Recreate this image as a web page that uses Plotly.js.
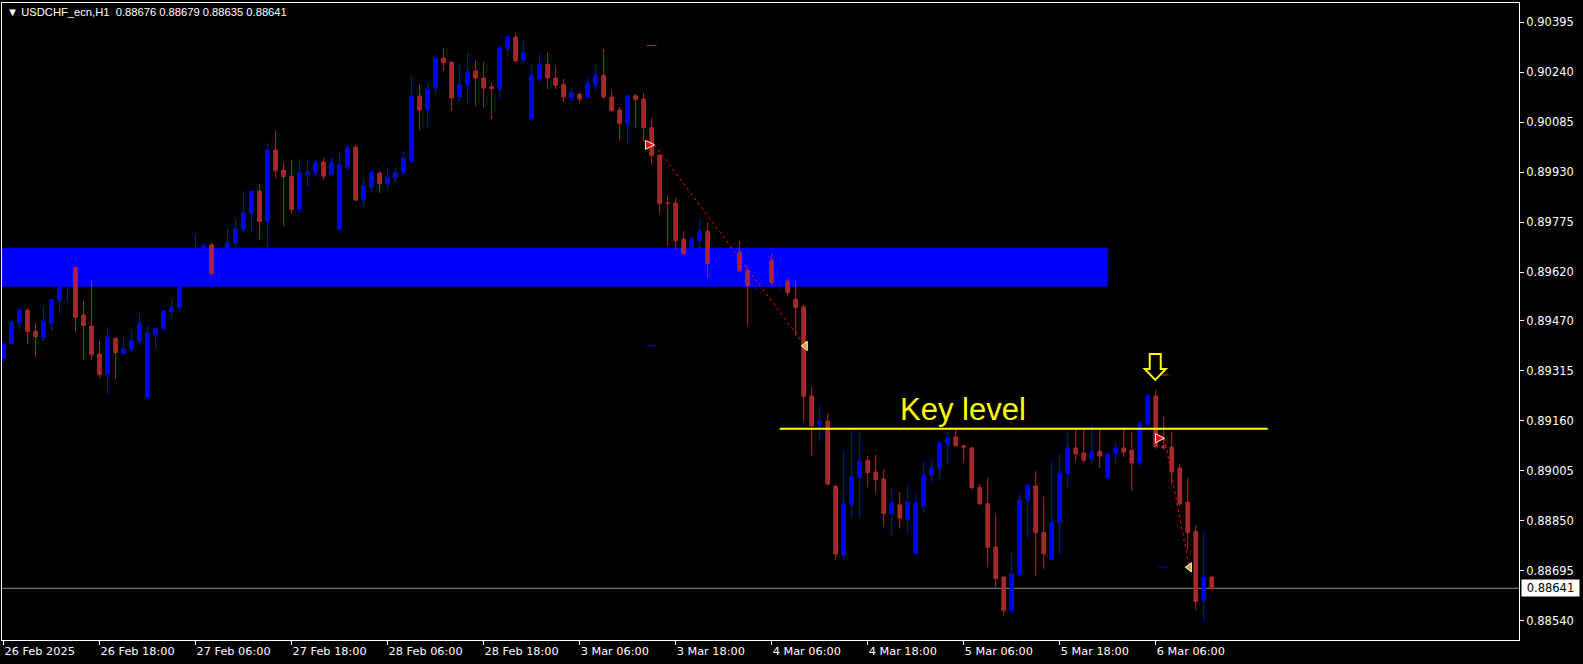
<!DOCTYPE html>
<html>
<head>
<meta charset="utf-8">
<script src="https://cdn.plot.ly/plotly-3.0.1.min.js"></script>
<style>html,body{margin:0;padding:0;background:#000;}#chart{width:1583px;height:664px;}</style>
</head>
<body>
<div id="chart"></div>
<script>
// ---- data (USDCHF_ecn, H1) ----
const opens = [0.89352,0.89399,0.89463,0.89503,0.89438,0.89417,0.89463,0.89531,0.89590,0.89634,
0.89488,0.89454,0.89367,0.89303,0.89416,0.89368,0.89380,0.89405,0.89232,0.89426,
0.89445,0.89498,0.89510,0.89590,0.89640,0.89680,0.89705,0.89620,0.89660,0.89711,
0.89752,0.89802,0.89872,0.89777,0.89999,0.89937,0.89918,0.89814,0.89922,0.89928,
0.89962,0.89922,0.89754,0.89946,0.90008,0.89844,0.89884,0.89928,0.89894,0.89913,
0.89928,0.89965,0.90166,0.90123,0.90191,0.90284,0.90272,0.90163,0.90200,0.90244,
0.90222,0.90195,0.90188,0.90312,0.90349,0.90278,0.90095,0.90219,0.90265,0.90222,
0.90203,0.90160,0.90172,0.90163,0.90200,0.90231,0.90163,0.90123,0.90078,0.90167,
0.90157,0.90068,0.89983,0.89835,0.89835,0.89723,0.89690,0.89717,0.89748,0.89650,
0.89665,0.89670,0.89683,0.89627,0.89580,0.89600,0.89658,0.89582,0.89593,0.89537,
0.89513,0.89237,0.89147,0.89159,0.88958,0.88741,0.88900,0.88984,0.89038,0.89001,
0.88980,0.88872,0.88900,0.88854,0.88750,0.88894,0.88990,0.89012,0.89086,0.89110,
0.89083,0.89076,0.88954,0.88903,0.88769,0.88676,0.88572,0.88683,0.88912,0.88958,
0.88815,0.88730,0.88844,0.88996,0.89076,0.89060,0.89042,0.89066,0.88984,0.89057,
0.89076,0.89069,0.89029,0.89151,0.89237,0.89082,0.89079,0.89014,0.88908,0.88818,
0.88603,0.88676];
const highs = [0.89405,0.89470,0.89509,0.89509,0.89463,0.89516,0.89537,0.89600,0.89660,0.89639,
0.89531,0.89596,0.89407,0.89450,0.89417,0.89419,0.89441,0.89492,0.89454,0.89448,
0.89503,0.89535,0.89590,0.89660,0.89739,0.89710,0.89712,0.89670,0.89758,0.89785,
0.89872,0.89872,0.89894,0.90021,0.90058,0.89962,0.89968,0.89971,0.89968,0.89968,
0.89974,0.89977,0.89993,0.90015,0.90015,0.89909,0.89934,0.89934,0.89943,0.89943,
0.89996,0.90228,0.90204,0.90204,0.90284,0.90315,0.90272,0.90262,0.90303,0.90278,
0.90272,0.90207,0.90324,0.90355,0.90362,0.90337,0.90262,0.90300,0.90303,0.90259,
0.90219,0.90194,0.90176,0.90225,0.90262,0.90312,0.90185,0.90133,0.90167,0.90172,
0.90176,0.90099,0.89985,0.89859,0.89850,0.89748,0.89734,0.89783,0.89776,0.89685,
0.89690,0.89702,0.89717,0.89640,0.89610,0.89640,0.89678,0.89605,0.89600,0.89596,
0.89520,0.89265,0.89209,0.89184,0.88960,0.89066,0.89128,0.89122,0.89051,0.89054,
0.89011,0.88950,0.88940,0.88962,0.88937,0.89032,0.89038,0.89097,0.89125,0.89131,
0.89085,0.89078,0.88965,0.88984,0.88871,0.88677,0.88751,0.88936,0.88961,0.89004,
0.88924,0.89035,0.89057,0.89122,0.89131,0.89131,0.89144,0.89131,0.89060,0.89094,
0.89141,0.89125,0.89159,0.89243,0.89255,0.89172,0.89125,0.89026,0.88983,0.88837,
0.88815,0.88679];
const lows = [0.89340,0.89396,0.89450,0.89401,0.89359,0.89408,0.89438,0.89492,0.89529,0.89436,
0.89351,0.89349,0.89293,0.89244,0.89290,0.89362,0.89374,0.89396,0.89230,0.89383,
0.89444,0.89479,0.89501,0.89580,0.89630,0.89660,0.89610,0.89600,0.89640,0.89690,
0.89746,0.89746,0.89721,0.89696,0.89913,0.89764,0.89802,0.89805,0.89884,0.89916,
0.89906,0.89920,0.89752,0.89934,0.89841,0.89822,0.89866,0.89866,0.89878,0.89897,
0.89922,0.89960,0.90060,0.90070,0.90176,0.90244,0.90120,0.90148,0.90142,0.90135,
0.90129,0.90095,0.90157,0.90287,0.90272,0.90269,0.90093,0.90207,0.90188,0.90188,
0.90148,0.90151,0.90145,0.90160,0.90182,0.90157,0.90117,0.90028,0.90016,0.90068,
0.90025,0.89953,0.89802,0.89703,0.89690,0.89672,0.89680,0.89690,0.89600,0.89640,
0.89655,0.89660,0.89619,0.89455,0.89565,0.89590,0.89578,0.89567,0.89545,0.89424,
0.89157,0.89051,0.89097,0.88958,0.88729,0.88729,0.88863,0.88863,0.88956,0.88934,
0.88832,0.88807,0.88826,0.88813,0.88742,0.88875,0.88968,0.88981,0.89027,0.89080,
0.89030,0.88947,0.88898,0.88708,0.88643,0.88556,0.88565,0.88677,0.88798,0.88680,
0.88702,0.88728,0.88748,0.88950,0.89032,0.89029,0.89029,0.89014,0.88982,0.89029,
0.89048,0.88942,0.89021,0.89144,0.89073,0.89070,0.88961,0.88900,0.88760,0.88575,
0.88540,0.88635];
const closes = [0.89398,0.89466,0.89503,0.89436,0.89420,0.89469,0.89535,0.89585,0.89640,0.89481,
0.89455,0.89365,0.89303,0.89419,0.89371,0.89382,0.89410,0.89463,0.89432,0.89447,
0.89500,0.89512,0.89580,0.89640,0.89680,0.89702,0.89616,0.89660,0.89714,0.89754,
0.89804,0.89872,0.89777,0.89999,0.89935,0.89916,0.89814,0.89928,0.89931,0.89962,
0.89918,0.89962,0.89953,0.90008,0.89844,0.89888,0.89931,0.89894,0.89915,0.89928,
0.89974,0.90166,0.90123,0.90188,0.90284,0.90269,0.90160,0.90203,0.90241,0.90222,
0.90191,0.90189,0.90315,0.90349,0.90275,0.90300,0.90231,0.90265,0.90222,0.90200,
0.90163,0.90176,0.90157,0.90207,0.90231,0.90163,0.90121,0.90081,0.90167,0.90155,
0.90068,0.89981,0.89833,0.89833,0.89718,0.89678,0.89723,0.89748,0.89647,0.89670,
0.89680,0.89690,0.89625,0.89579,0.89600,0.89625,0.89588,0.89595,0.89557,0.89511,
0.89235,0.89144,0.89159,0.88964,0.88747,0.88903,0.88987,0.89035,0.88999,0.88978,
0.88872,0.88906,0.88857,0.88909,0.88906,0.88992,0.89015,0.89091,0.89107,0.89083,
0.89077,0.88953,0.88903,0.88768,0.88671,0.88572,0.88686,0.88915,0.88961,0.88813,
0.88748,0.88846,0.88998,0.89076,0.89057,0.89038,0.89066,0.89051,0.89057,0.89076,
0.89063,0.89029,0.89153,0.89237,0.89079,0.89076,0.89001,0.88902,0.88813,0.88600,
0.88676,0.88641];

const xTickIdx = [0,12,24,36,48,60,72,84,96,108,120,132,144];
const xTickLabels = ["26 Feb 2025","26 Feb 18:00","27 Feb 06:00","27 Feb 18:00","28 Feb 06:00",
  "28 Feb 18:00","3 Mar 06:00","3 Mar 18:00","4 Mar 06:00","4 Mar 18:00","5 Mar 06:00",
  "5 Mar 18:00","6 Mar 06:00"];
const yTickVals = [0.90395,0.90240,0.90085,0.89930,0.89775,0.89620,0.89470,0.89315,0.89160,
  0.89005,0.88850,0.88695,0.88540];
const yTickLabels = ["0.90395","0.90240","0.90085","0.89930","0.89775","0.89620","0.89470",
  "0.89315","0.89160","0.89005","0.88850","0.88695","0.88540"];

const symbolName = "USDCHF_ecn,H1";
const zoneTop = 0.89696, zoneBottom = 0.89575, zoneEndBar = 138;
const keyLevel = 0.89135, keyStartBar = 97, keyEndBar = 158;
const keyLabel = "Key level", keyLabelBar = 119.9, keyLabelPrice = 0.89196;
const signalBar = 143.94, signalPrice = 0.89327;
const lastPrice = 0.88641;

// trades (sell): open arrow -> close triangle
const tradeOpenBar = [81.35, 145.1], tradeOpenPrice = [0.90015, 0.89106];
const tradeCloseBar = [100.2, 148.2], tradeClosePrice = [0.89392, 0.88706];
const tpBar = [81, 145], tpPrice = [0.89392, 0.88707];
const slBar = [81, 145], slPrice = [0.90323, 0.89302];

const idx = opens.map((_, i) => i);
const BULL = "#0000FF", BEAR = "#A52A2A";
const FONT = "DejaVu Sans";

const traces = [];
traces.push({
  type: "candlestick", x: idx, open: opens, high: highs, low: lows, close: closes,
  increasing: {line: {color: BULL, width: 1}, fillcolor: BULL},
  decreasing: {line: {color: BEAR, width: 1}, fillcolor: BEAR},
  whiskerwidth: 0, hoverinfo: "none", showlegend: false
});
for (let k = 0; k < tradeOpenBar.length; k++) {
  traces.push({type: "scatter", mode: "lines", x: [tradeOpenBar[k], tradeCloseBar[k]],
    y: [tradeOpenPrice[k], tradeClosePrice[k]], line: {color: "#FF0000", width: 1, dash: "dot"},
    hoverinfo: "none", showlegend: false});
}
traces.push({type: "scatter", mode: "markers", x: tpBar, y: tpPrice,
  marker: {symbol: "line-ew", size: 7, line: {color: "#0000FF", width: 1}}, hoverinfo: "none", showlegend: false});
traces.push({type: "scatter", mode: "markers", x: slBar, y: slPrice,
  marker: {symbol: "line-ew", size: 7, line: {color: "#FF0000", width: 1}}, hoverinfo: "none", showlegend: false});
traces.push({type: "scatter", mode: "markers", x: tradeOpenBar, y: tradeOpenPrice,
  marker: {symbol: "arrow-right", size: 9, color: "#FF0000", line: {color: "#FFFFFF", width: 1}}, hoverinfo: "none", showlegend: false});
traces.push({type: "scatter", mode: "markers", x: tradeCloseBar, y: tradeClosePrice,
  marker: {symbol: "triangle-left", size: 8, color: "#DAA520", line: {color: "#FFFFFF", width: 1}}, hoverinfo: "none", showlegend: false});

// outlined down-arrow (pixel-sized, anchored at the signal bar/price)
const arrowPath = "M -5.5 13 L 5.5 13 L 5.5 -2 L 10.5 -2 L 0 -13 L -10.5 -2 L -5.5 -2 Z";

const layout = {
  width: 1583, height: 664,
  margin: {l: 2, r: 64, t: 3, b: 24},
  paper_bgcolor: "#000000", plot_bgcolor: "#000000",
  showlegend: false, boxgap: 0.35,
  font: {family: FONT, color: "#FFFFFF", size: 11.5},
  xaxis: {
    range: [-0.19, 189.4], rangeslider: {visible: false},
    tickmode: "array", tickvals: xTickIdx, ticktext: xTickLabels,
    ticks: "outside", ticklen: 4, tickcolor: "#FFFFFF", ticklabelposition: "outside right",
    showgrid: false, zeroline: false, showline: true, linecolor: "#FFFFFF", linewidth: 1, mirror: true,
    tickfont: {family: FONT, size: 11.3, color: "#FFFFFF"}
  },
  yaxis: {
    side: "right", range: [0.884808, 0.904545],
    tickmode: "array", tickvals: yTickVals, ticktext: yTickLabels,
    ticks: "outside", ticklen: 4, tickcolor: "#FFFFFF",
    showgrid: false, zeroline: false, showline: true, linecolor: "#FFFFFF", linewidth: 1, mirror: true,
    tickfont: {family: FONT, size: 11.5, color: "#FFFFFF"}
  },
  shapes: [
    {type: "rect", xref: "x", yref: "y", x0: -1, x1: zoneEndBar, y0: zoneBottom, y1: zoneTop,
     fillcolor: "#0000FF", line: {width: 0}, layer: "below"},
    {type: "line", xref: "paper", yref: "y", x0: 0, x1: 1, y0: lastPrice, y1: lastPrice,
     line: {color: "#8A949E", width: 1}, layer: "below"},
    {type: "line", xref: "x", yref: "y", x0: keyStartBar, x1: keyEndBar, y0: keyLevel, y1: keyLevel,
     line: {color: "#FFFF00", width: 2}},
    {type: "path", xref: "x", yref: "y", xsizemode: "pixel", ysizemode: "pixel",
     xanchor: signalBar, yanchor: signalPrice, path: arrowPath,
     fillcolor: "#000000", line: {color: "#FFFF00", width: 2}}
  ],
  annotations: [
    {xref: "paper", yref: "paper", x: 0, y: 1, xshift: 3, yshift: -1, xanchor: "left", yanchor: "top",
     text: "▼ " + symbolName + "  " + opens[opens.length-1].toFixed(5) + " " + highs[highs.length-1].toFixed(5) + " " +
           lows[lows.length-1].toFixed(5) + " " + closes[closes.length-1].toFixed(5),
     showarrow: false, font: {family: "Liberation Sans", size: 11.2, color: "#FFFFFF"}},
    {xref: "x", yref: "y", x: keyLabelBar, y: keyLabelPrice, text: keyLabel, showarrow: false,
     font: {family: "Liberation Sans", size: 31, color: "#FFFF00"}},
    {xref: "paper", yref: "y", x: 1, y: lastPrice, xanchor: "left", xshift: 2, text: " " + lastPrice.toFixed(5) + " ",
     showarrow: false, bgcolor: "#FFFFFF", borderpad: 1, font: {family: FONT, size: 11.5, color: "#000000"}}
  ]
};

Plotly.newPlot("chart", traces, layout, {displayModeBar: false, staticPlot: true});
</script>
</body>
</html>
